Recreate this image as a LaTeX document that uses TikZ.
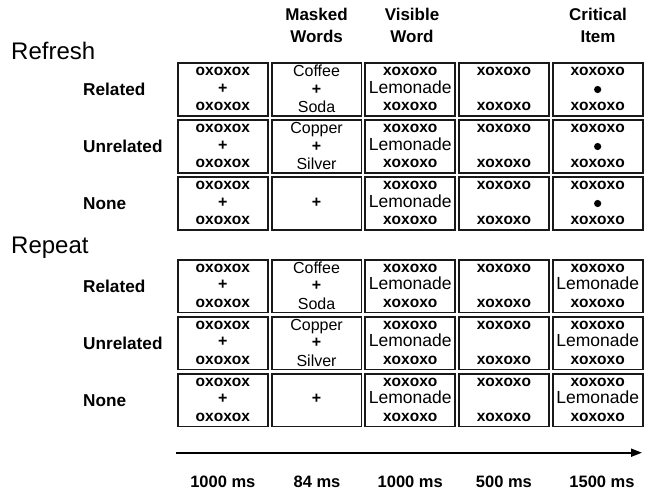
\documentclass[tikz,border=0pt]{standalone}
\usepackage{fontspec}
\setmainfont{Liberation Sans}
\usetikzlibrary{arrows.meta,calc}
\newcommand\OX{{\fontsize{15.5}{16}\selectfont\bfseries oxoxox}}
\newcommand\XO{{\fontsize{15.5}{16}\selectfont\bfseries xoxoxo}}
\newcommand\PL{{\fontsize{16}{16}\selectfont\bfseries +}}
\newcommand\WD[1]{{\fontsize{17.5}{18}\selectfont #1}}
\newcommand\WS[1]{{\fontsize{16}{18}\selectfont #1}}
\newcommand\cell[6]{%
  \node[cellbx] (#1) at (#2,#3) {};
  \node[celltxt] (#1-a) at ($(#1.center)+(0,13.8)$) {#4};
  \node[celltxt] (#1-b) at ($(#1.center)+(0,-3.7)$) {#5};
  \node[celltxt] (#1-c) at ($(#1.center)+(0,-21.2)$) {#6};
}
\newcommand\wordcell[5]{%
  \node[cellbx] (#1) at (#2,#3) {};
  \node[celltxt] (#1-a) at ($(#1.center)+(0,13)$) {\WS{#4}};
  \node[celltxt] (#1-b) at ($(#1.center)+(0,-4.6)$) {\PL};
  \node[celltxt] (#1-c) at ($(#1.center)+(0,-23)$) {\WS{#5}};
}
\newcommand\dotcell[2]{%
  \node[cellbx] (#1) at (#2) {};
  \node[celltxt] (#1-a) at ($(#1.center)+(0,13.8)$) {\XO};
  \node[dotmark] (#1-b) at (#1.center) {};
  \node[celltxt] (#1-c) at ($(#1.center)+(0,-21.2)$) {\XO};
}
\begin{document}
\begin{tikzpicture}[x=1pt,y=1pt,
  cellbx/.style={draw=black!90,line width=1.8pt,minimum width=89.9pt,minimum height=52.6pt,inner sep=0pt},
  celltxt/.style={anchor=base,inner sep=0pt},
  dotmark/.style={circle,fill=black,minimum size=7.2pt,inner sep=0pt},
  sect/.style={anchor=base west,inner sep=0pt,font=\fontsize{24}{26}\selectfont},
  rowlbl/.style={anchor=base west,inner sep=0pt,font=\fontsize{17.2}{18}\selectfont\bfseries},
  hdr/.style={anchor=base,inner sep=0pt,font=\fontsize{17}{18}\selectfont\bfseries},
  tlbl/.style={anchor=base,inner sep=0pt,font=\fontsize{16.5}{18}\selectfont\bfseries}]
\useasboundingbox (0,0) rectangle (649,-490);
% headers
\node[hdr] (h2a) at (316.55,-20.7) {Masked};
\node[hdr] (h2b) at (316.55,-42.7) {Words};
\node[hdr] (h3a) at (412,-20.7) {Visible};
\node[hdr] (h3b) at (412,-42.7) {Word};
\node[hdr] (h5a) at (598,-20.7) {Critical};
\node[hdr] (h5b) at (598,-42.7) {Item};
% sections
\node[sect] (refresh) at (11,-59) {Refresh};
\node[sect] (repeat) at (11,-253) {Repeat};
% row labels
\node[rowlbl] (l1) at (83,-95.6) {Related};
\node[rowlbl] (l2) at (83,-152.6) {Unrelated};
\node[rowlbl] (l3) at (83,-209.6) {None};
\node[rowlbl] (l4) at (83,-292.3) {Related};
\node[rowlbl] (l5) at (83,-349.3) {Unrelated};
\node[rowlbl] (l6) at (83,-406.3) {None};
% Refresh rows
\cell{a1}{222.85}{-89.5}{\OX}{\PL}{\OX}
\wordcell{a2}{316.55}{-89.5}{Coffee}{Soda}
\cell{a3}{410.25}{-89.5}{\XO}{\WD{Lemonade}}{\XO}
\cell{a4}{503.95}{-89.5}{\XO}{}{\XO}
\dotcell{a5}{597.65,-89.5}
\cell{b1}{222.85}{-146.5}{\OX}{\PL}{\OX}
\wordcell{b2}{316.55}{-146.5}{Copper}{Silver}
\cell{b3}{410.25}{-146.5}{\XO}{\WD{Lemonade}}{\XO}
\cell{b4}{503.95}{-146.5}{\XO}{}{\XO}
\dotcell{b5}{597.65,-146.5}
\cell{c1}{222.85}{-203.5}{\OX}{\PL}{\OX}
\cell{c2}{316.55}{-203.5}{}{\PL}{}
\cell{c3}{410.25}{-203.5}{\XO}{\WD{Lemonade}}{\XO}
\cell{c4}{503.95}{-203.5}{\XO}{}{\XO}
\dotcell{c5}{597.65,-203.5}
% Repeat rows
\cell{d1}{222.85}{-286.2}{\OX}{\PL}{\OX}
\wordcell{d2}{316.55}{-286.2}{Coffee}{Soda}
\cell{d3}{410.25}{-286.2}{\XO}{\WD{Lemonade}}{\XO}
\cell{d4}{503.95}{-286.2}{\XO}{}{\XO}
\cell{d5}{597.65}{-286.2}{\XO}{\WD{Lemonade}}{\XO}
\cell{e1}{222.85}{-343.2}{\OX}{\PL}{\OX}
\wordcell{e2}{316.55}{-343.2}{Copper}{Silver}
\cell{e3}{410.25}{-343.2}{\XO}{\WD{Lemonade}}{\XO}
\cell{e4}{503.95}{-343.2}{\XO}{}{\XO}
\cell{e5}{597.65}{-343.2}{\XO}{\WD{Lemonade}}{\XO}
\cell{f1}{222.85}{-400.2}{\OX}{\PL}{\OX}
\cell{f2}{316.55}{-400.2}{}{\PL}{}
\cell{f3}{410.25}{-400.2}{\XO}{\WD{Lemonade}}{\XO}
\cell{f4}{503.95}{-400.2}{\XO}{}{\XO}
\cell{f5}{597.65}{-400.2}{\XO}{\WD{Lemonade}}{\XO}
% time axis
\coordinate (tstart) at (176,-452.7);
\coordinate (tend) at (642,-452.7);
\draw[line width=1.8pt,-{Triangle[length=11pt,width=8pt]}] (tstart) -- (tend);
\node[tlbl] (t1) at (222.85,-487) {1000 ms};
\node[tlbl] (t2) at (317,-487) {84 ms};
\node[tlbl] (t3) at (410.25,-487) {1000 ms};
\node[tlbl] (t4) at (503.95,-487) {500 ms};
\node[tlbl] (t5) at (602,-487) {1500 ms};
\end{tikzpicture}
\end{document}
